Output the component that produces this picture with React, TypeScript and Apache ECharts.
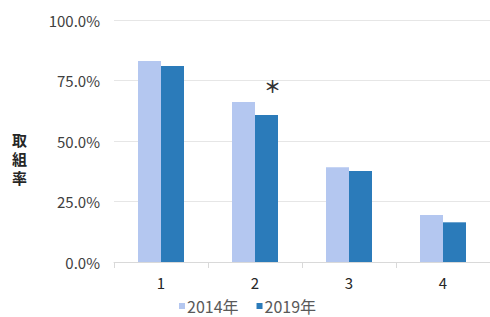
import React, { useEffect, useRef } from "react";
import * as echarts from "echarts";

const categories = ["1", "2", "3", "4"];
const series2014 = [83.1, 66.1, 39.2, 19.4];
const series2019 = [81.0, 60.7, 37.6, 16.4];
const seriesNames = ["2014年", "2019年"];
const yTicks = [0, 25, 50, 75, 100];
const noteMark = "＊";
const noteIndex = 1;

const FONT = "'Noto Sans CJK JP', 'Noto Sans', sans-serif";

export default function App() {
  const ref = useRef<HTMLDivElement>(null);
  useEffect(() => {
    if (!ref.current) return;
    const chart = echarts.init(ref.current, null, { renderer: "svg" });
    chart.setOption({
      animation: false,
      textStyle: { fontFamily: FONT },
      grid: { left: 114, top: 20, width: 377, height: 242, containLabel: false },
      legend: {
        data: seriesNames,
        left: 179,
        top: 298,
        itemWidth: 6,
        itemHeight: 6,
        itemGap: 18,
        padding: 0,
        icon: "rect",
        textStyle: { fontFamily: FONT, fontSize: 16, color: "#595959", padding: [0, 0, 0, -3] },
      },
      xAxis: {
        type: "category",
        data: categories,
        axisLine: { lineStyle: { color: "#d9d9d9" } },
        axisTick: { show: true, length: 6, lineStyle: { color: "#d9d9d9" } },
        axisLabel: { color: "#262626", fontSize: 15, margin: 13, fontFamily: FONT },
      },
      yAxis: {
        type: "value",
        min: yTicks[0],
        max: yTicks[yTicks.length - 1],
        interval: 25,
        axisLine: { show: false },
        axisTick: { show: false },
        splitLine: { lineStyle: { color: "#e6e6e6" } },
        axisLabel: {
          color: "#404040",
          fontSize: 15,
          margin: 14,
          fontFamily: FONT,
          formatter: (v: number) => v.toFixed(1) + "%",
        },
      },
      graphic: [
        {
          type: "text",
          left: 12,
          top: 130,
          style: {
            text: "取\n組\n率",
            font: `bold 15px ${FONT}`,
            fill: "#262626",
            lineHeight: 19,
          },
        },
      ],
      series: [
        {
          name: seriesNames[0],
          type: "bar",
          data: series2014,
          barWidth: 23,
          barGap: "0%",
          itemStyle: { color: "#b4c7f0" },
        },
        {
          name: seriesNames[1],
          type: "bar",
          data: series2019.map((v, i) =>
            i === noteIndex
              ? {
                  value: v,
                  label: {
                    show: true,
                    position: "top",
                    formatter: noteMark,
                    offset: [6, -16],
                    fontSize: 17,
                    fontWeight: "bold",
                    color: "#333",
                  },
                }
              : v
          ),
          barWidth: 23,
          barGap: "0%",
          itemStyle: { color: "#2b7bba" },
        },
      ],
    });
    return () => chart.dispose();
  }, []);
  return (
    <div
      ref={ref}
      style={{ position: "absolute", left: 0, top: 0, width: 490, height: 317 }}
    />
  );
}
